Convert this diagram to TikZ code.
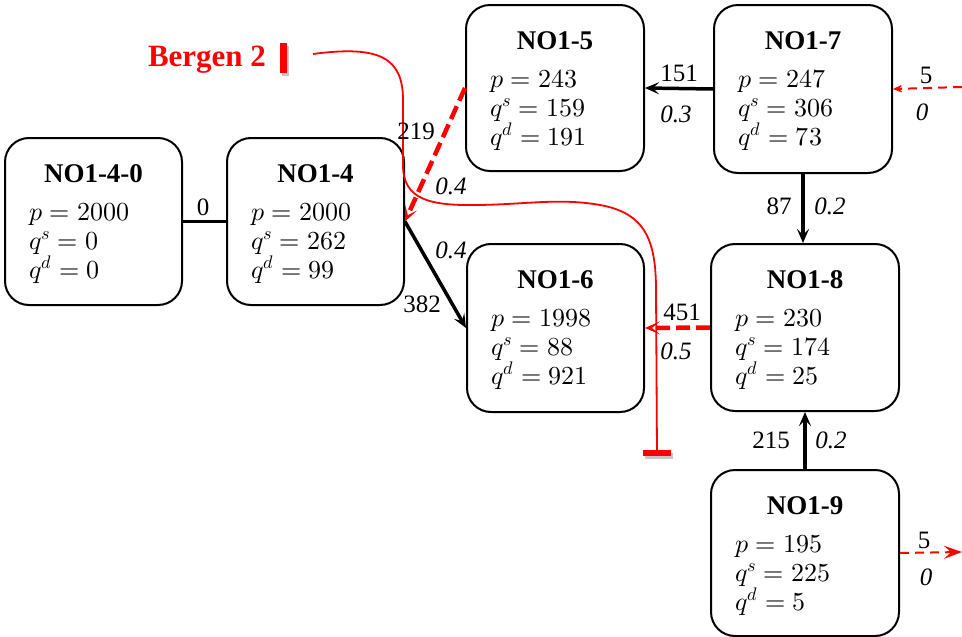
\documentclass[tikz,border=0pt]{standalone}
\usepackage{fontspec}
\usepackage{unicode-math}
\setmainfont{Liberation Serif}
\setmathfont{Latin Modern Math}
\usetikzlibrary{arrows.meta,calc}
\newcommand\busbox[9]{%
  \node[bus,anchor=north west,minimum width=#4pt,minimum height=#5pt] (#1) at (#2,#3) {};
  \node[ttl,anchor=base] (#1-t) at ($(#1.north)+(0,45)$) {#6};
  \node[ml,anchor=base west] (#1-p) at ($(#1.north west)+(25,83)$) {$p=#7$};
  \node[ml,anchor=base west] (#1-s) at ($(#1.north west)+(25,112)$) {$q^s=#8$};
  \node[ml,anchor=base west] (#1-d) at ($(#1.north west)+(25,141)$) {$q^d=#9$};
}
\begin{document}
\begin{tikzpicture}[x=1pt,y=-1pt,
  bus/.style={draw,line width=2pt,rounded corners=24pt,inner sep=0pt,fill=white},
  ttl/.style={font=\fontsize{27}{30}\selectfont\bfseries,inner sep=0pt},
  ml/.style={font=\fontsize{26}{30}\selectfont,inner sep=0pt},
  lab/.style={font=\fontsize{25}{30}\selectfont,inner sep=0pt},
  ilab/.style={font=\fontsize{25}{30}\selectfont\itshape,inner sep=0pt},
  flow/.style={line width=3.5pt,-{Stealth[length=14pt,width=12pt,inset=6pt]}},
  rflow/.style={red,line width=4.5pt,dash pattern=on 14pt off 6pt,-{Stealth[length=15pt,width=13pt,inset=8pt]}},
  tflow/.style={red,line width=2pt,dash pattern=on 9pt off 6pt},
  cut/.style={red,line width=1.8pt},
]
\useasboundingbox (0,0) rectangle (962,637);

\busbox{n40}{4}{137}{177}{167}{NO1-4-0}{2000}{0}{0}
\busbox{n4}{226}{137}{177}{167}{NO1-4}{2000}{262}{99}
\busbox{n5}{465}{4}{178}{166}{NO1-5}{243}{159}{191}
\busbox{n7}{713}{4}{178}{168}{NO1-7}{247}{306}{73}
\busbox{n6}{466}{243}{177}{168}{NO1-6}{1998}{88}{921}
\busbox{n8}{710}{243}{188}{167}{NO1-8}{230}{174}{25}
\busbox{n9}{710}{469}{188}{166}{NO1-9}{195}{225}{5}

% Bergen 2 cut
\node[red,font=\fontsize{31}{34}\selectfont\bfseries,inner sep=0pt,anchor=base] (bergen) at (207,66) {Bergen 2};
\coordinate (bbarT) at (283,43);
\coordinate (bbarB) at (283,73);
\draw[gray!45,line width=7pt] ($(bbarT)+(2,3)$) -- ($(bbarB)+(2,3)$);
\draw[red,line width=7pt] (bbarT) -- (bbarB);
\coordinate (cstart) at (313,54);
\coordinate (cend) at (657,453);
\draw[cut] (cstart) .. controls (380,45) and (403,58) .. (403,100)
  -- (403,165) .. controls (403,200) and (430,206) .. (480,205)
  .. controls (530,204) and (560,198) .. (600,205)
  .. controls (645,213) and (656,240) .. (656,290) -- (cend);
\coordinate (ebarL) at (643,453);
\coordinate (ebarR) at (671,453);
\draw[gray!45,line width=6pt] ($(ebarL)+(2,3)$) -- ($(ebarR)+(2,3)$);
\draw[red,line width=6pt] (ebarL) -- (ebarR);

% flows
\draw[line width=3.5pt] (n40.east) -- (n4.west);
\node[lab] (l0) at (203,207) {0};

\draw[rflow] (n5.west) -- (n4.east);
\node[lab] (l219) at (416,131) {219};
\node[ilab] (l219b) at (451,186) {0.4};

\draw[flow] (n4.east) -- (n6.west);
\node[ilab] (l382b) at (451,250) {0.4};
\node[lab] (l382) at (422,304) {382};

\draw[flow] (n7.west) -- (n5.east);
\node[lab] (l151) at (679,73) {151};
\node[ilab] (l151b) at (676,114) {0.3};

\draw[flow] (n7.south) -- (n7.south |- n8.north);
\node[lab] (l87) at (779,206) {87};
\node[ilab] (l87b) at (830,206) {0.2};

\draw[flow] (n9.north) -- (n8.south);
\node[lab] (l215) at (771,440) {215};
\node[ilab] (l215b) at (831,440) {0.2};

\draw[rflow] (n8.west) -- (n6.east);
\node[lab] (l451) at (682,312) {451};
\node[ilab] (l451b) at (676,351) {0.5};

\coordinate (in7) at (962,87);
\draw[tflow,-{Stealth[length=15pt,width=13pt,inset=10pt]}] (in7) -- (n7.east);
\node[lab] (l5a) at (926,75) {5};
\node[ilab] (l5ab) at (922,112) {0};

\coordinate (out9) at (962,552);
\draw[tflow,-{Stealth[length=18pt,width=13pt,inset=7pt]}] (n9.east) -- (out9);
\node[lab] (l5b) at (924,540) {5};
\node[ilab] (l5bb) at (926,577) {0};
\end{tikzpicture}
\end{document}
